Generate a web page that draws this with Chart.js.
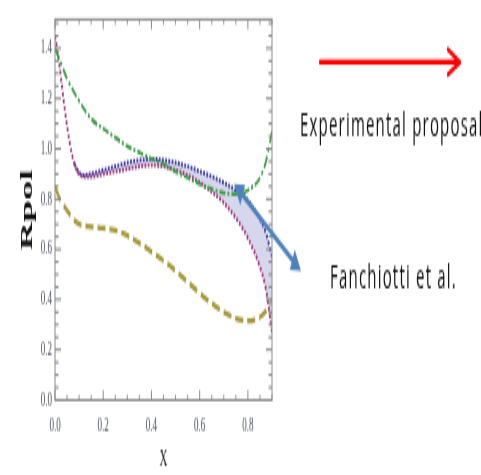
<!DOCTYPE html>
<html>
<head>
<meta charset="utf-8">
<script src="https://cdn.jsdelivr.net/npm/chart.js@4/dist/chart.umd.min.js"></script>
<style>
  html { margin: 0; padding: 0; background: #fff; overflow: hidden; }
  body { margin: 0; padding: 0; background: #fff; width: 481px; height: 475px; }
  /* the figure is laid out at a squat height and stretched vertically */
  #wrap { width: 481px; height: 206px; transform: scaleY(2.30583); transform-origin: 0 0; }
</style>
</head>
<body>
<div id="wrap"><canvas id="c" width="481" height="206"></canvas></div>
<script>
// ---- data ----
const greenX = [0, 0.025, 0.05, 0.1, 0.15, 0.2, 0.25, 0.3, 0.35, 0.4, 0.45, 0.5, 0.55, 0.6, 0.65, 0.7, 0.75, 0.8, 0.85, 0.875, 0.9];
const greenY = [1.40, 1.34, 1.28, 1.19, 1.12, 1.08, 1.045, 1.01, 0.985, 0.96, 0.94, 0.91, 0.885, 0.86, 0.84, 0.825, 0.82, 0.835, 0.885, 0.95, 1.07];

const magentaX = [0, 0.01, 0.02, 0.03, 0.04, 0.05, 0.06, 0.07, 0.08, 0.09, 0.1, 0.12, 0.15, 0.2, 0.25, 0.3, 0.35, 0.4, 0.45, 0.5, 0.55, 0.6, 0.65, 0.7, 0.75, 0.8, 0.85, 0.875, 0.9];
const magentaY = [1.45, 1.39, 1.32, 1.24, 1.16, 1.09, 1.03, 0.98, 0.94, 0.915, 0.90, 0.89, 0.89, 0.90, 0.91, 0.92, 0.93, 0.935, 0.93, 0.915, 0.895, 0.865, 0.83, 0.785, 0.725, 0.645, 0.53, 0.44, 0.27];

const blueX = [0.08, 0.1, 0.12, 0.15, 0.2, 0.25, 0.3, 0.35, 0.4, 0.45, 0.5, 0.55, 0.6, 0.65, 0.7, 0.75, 0.8, 0.85, 0.875, 0.9];
const blueY = [0.94, 0.905, 0.895, 0.90, 0.915, 0.93, 0.945, 0.955, 0.96, 0.955, 0.945, 0.93, 0.91, 0.89, 0.865, 0.835, 0.795, 0.72, 0.665, 0.57];

const oliveX = [0, 0.025, 0.05, 0.075, 0.1, 0.15, 0.2, 0.25, 0.3, 0.35, 0.4, 0.45, 0.5, 0.55, 0.6, 0.65, 0.7, 0.75, 0.8, 0.85, 0.875, 0.9];
const oliveY = [0.85, 0.79, 0.755, 0.72, 0.70, 0.69, 0.685, 0.675, 0.655, 0.625, 0.59, 0.555, 0.515, 0.47, 0.425, 0.385, 0.35, 0.325, 0.315, 0.33, 0.355, 0.40];

const xTicks = [0, 0.2, 0.4, 0.6, 0.8];
const yTicks = [0, 0.2, 0.4, 0.6, 0.8, 1.0, 1.2, 1.4];

// ---- layout helpers ----
const S = 475 / 206;          // vertical stretch applied by CSS
const H = 206;
const TOP = 5 / S, BOTTOM = 400 / S;

const pts = (xs, ys) => xs.map((x, i) => ({ x, y: ys[i] }));

const minorX = Array.from({ length: 19 }, (_, i) => +(i * 0.05).toFixed(2));
const minorY = Array.from({ length: 31 }, (_, i) => +(i * 0.05).toFixed(2));

// Mathematica-style frame with inward ticks on all four sides
const framePlugin = {
  id: 'frame',
  afterDatasetsDraw(chart) {
    const { ctx, chartArea: a, scales: { x, y } } = chart;
    ctx.save();
    ctx.strokeStyle = '#8a8a8a';
    ctx.lineWidth = 1;
    ctx.strokeRect(a.left, a.top, a.right - a.left, a.bottom - a.top);
    ctx.beginPath();
    for (const v of minorX) {
      const px = x.getPixelForValue(v);
      const major = Math.abs(v / 0.2 - Math.round(v / 0.2)) < 1e-6;
      const len = major ? 4.3 : 2.2;
      ctx.moveTo(px, a.bottom); ctx.lineTo(px, a.bottom - len);
      ctx.moveTo(px, a.top); ctx.lineTo(px, a.top + len);
    }
    for (const v of minorY) {
      if (v > y.max) continue;
      const py = y.getPixelForValue(v);
      const major = Math.abs(v / 0.2 - Math.round(v / 0.2)) < 1e-6;
      const len = major ? 6 : 3.5;
      ctx.moveTo(a.left, py); ctx.lineTo(a.left + len, py);
      ctx.moveTo(a.right, py); ctx.lineTo(a.right - len, py);
    }
    ctx.stroke();
    ctx.restore();
  }
};

// arrows and captions beside the plot
function arrowHead(ctx, tx, ty, fx, fy, len, half) {
  const ang = Math.atan2(ty - fy, tx - fx);
  ctx.beginPath();
  ctx.moveTo(tx, ty);
  ctx.lineTo(tx - len * Math.cos(ang) + half * Math.sin(ang), ty - len * Math.sin(ang) - half * Math.cos(ang));
  ctx.lineTo(tx - len * Math.cos(ang) - half * Math.sin(ang), ty - len * Math.sin(ang) + half * Math.cos(ang));
  ctx.closePath();
  ctx.fill();
}

const notesPlugin = {
  id: 'notes',
  afterDraw(chart) {
    const ctx = chart.ctx;
    ctx.save();
    // red arrow
    const ry = 62 / S;
    ctx.strokeStyle = '#ff0000';
    ctx.lineWidth = 2.2;
    ctx.lineCap = 'round';
    ctx.lineJoin = 'round';
    ctx.beginPath();
    ctx.moveTo(320, ry); ctx.lineTo(459, ry);
    ctx.moveTo(448, ry - 5.4); ctx.lineTo(460, ry); ctx.lineTo(448, ry + 5.4);
    ctx.stroke();

    // blue double arrow
    const x1 = 234, y1 = 184 / S, x2 = 301, y2 = 271 / S;
    const ang = Math.atan2(y2 - y1, x2 - x1);
    const hl = 8;
    ctx.strokeStyle = '#4f81bd';
    ctx.fillStyle = '#4f81bd';
    ctx.lineWidth = 2.6;
    ctx.lineCap = 'butt';
    ctx.beginPath();
    ctx.moveTo(x1 + hl * Math.cos(ang), y1 + hl * Math.sin(ang));
    ctx.lineTo(x2 - hl * Math.cos(ang), y2 - hl * Math.sin(ang));
    ctx.stroke();
    arrowHead(ctx, x1, y1, x2, y2, 10, 5);
    arrowHead(ctx, x2, y2, x1, y1, 10, 5);

    // captions
    ctx.fillStyle = '#111';
    ctx.font = '15px "Open Sans"';
    ctx.textBaseline = 'alphabetic';
    ctx.textAlign = 'left';
    try { ctx.letterSpacing = '1.2px'; } catch (e) {}
    ctx.fillText('Experimental proposal', 300, 137 / S);
    ctx.fillText('Fanchiotti et al.', 330, 288 / S);
    ctx.restore();
  }
};

const serif = '"Liberation Serif", "Times New Roman", serif';

new Chart(document.getElementById('c'), {
  type: 'line',
  data: {
    datasets: [
      {
        label: 'green', data: pts(greenX, greenY),
        borderColor: '#3c9a46', borderWidth: 1.7, borderDash: [6, 2, 2, 2],
        pointRadius: 0, fill: false, cubicInterpolationMode: 'monotone'
      },
      {
        label: 'magenta', data: pts(magentaX, magentaY),
        borderColor: '#a0387c', borderWidth: 1.9, borderDash: [1.8, 1.4],
        pointRadius: 0, fill: false, cubicInterpolationMode: 'monotone'
      },
      {
        label: 'blue', data: pts(blueX, blueY),
        borderColor: '#3a3aa2', borderWidth: 1.9, borderDash: [1.8, 1.4],
        backgroundColor: 'rgba(180,180,222,0.55)',
        pointRadius: 0, fill: 1, cubicInterpolationMode: 'monotone'
      },
      {
        label: 'olive', data: pts(oliveX, oliveY),
        borderColor: '#a89a3c', borderWidth: 2.3, borderDash: [8, 4],
        pointRadius: 0, fill: false, cubicInterpolationMode: 'monotone'
      }
    ]
  },
  options: {
    responsive: false,
    animation: false,
    devicePixelRatio: 1,
    layout: { padding: { left: 0, right: 481 - 272, top: TOP, bottom: 0 } },
    plugins: {
      legend: { display: false },
      tooltip: { enabled: false }
    },
    scales: {
      x: {
        type: 'linear', min: 0, max: 0.9,
        afterBuildTicks: s => { s.ticks = xTicks.map(v => ({ value: v })); },
        afterFit: s => { s.height = H - BOTTOM; },
        grid: { display: false, drawTicks: false },
        border: { display: false },
        ticks: {
          padding: 5.5, maxRotation: 0, autoSkip: false,
          font: { family: serif, size: 9 }, color: '#4a4f60',
          callback: v => v.toFixed(1)
        },
        title: {
          display: true, text: 'X', color: '#222',
          font: { family: serif, size: 11 }, padding: { top: 0, bottom: 0.5 }
        }
      },
      y: {
        type: 'linear', min: 0, max: 1.515,
        afterBuildTicks: s => { s.ticks = yTicks.map(v => ({ value: v })); },
        afterFit: s => { s.width = 55; },
        grid: { display: false, drawTicks: false },
        border: { display: false },
        ticks: {
          padding: 3, autoSkip: false,
          font: { family: serif, size: 9 }, color: '#4a4f60',
          callback: v => v.toFixed(1)
        },
        title: {
          display: true, text: 'Rpol', color: '#111',
          font: { family: serif, size: 17, weight: 'bold' }, padding: { top: 17, bottom: 0 }
        }
      }
    }
  },
  plugins: [framePlugin, notesPlugin]
});
</script>
</body>
</html>
